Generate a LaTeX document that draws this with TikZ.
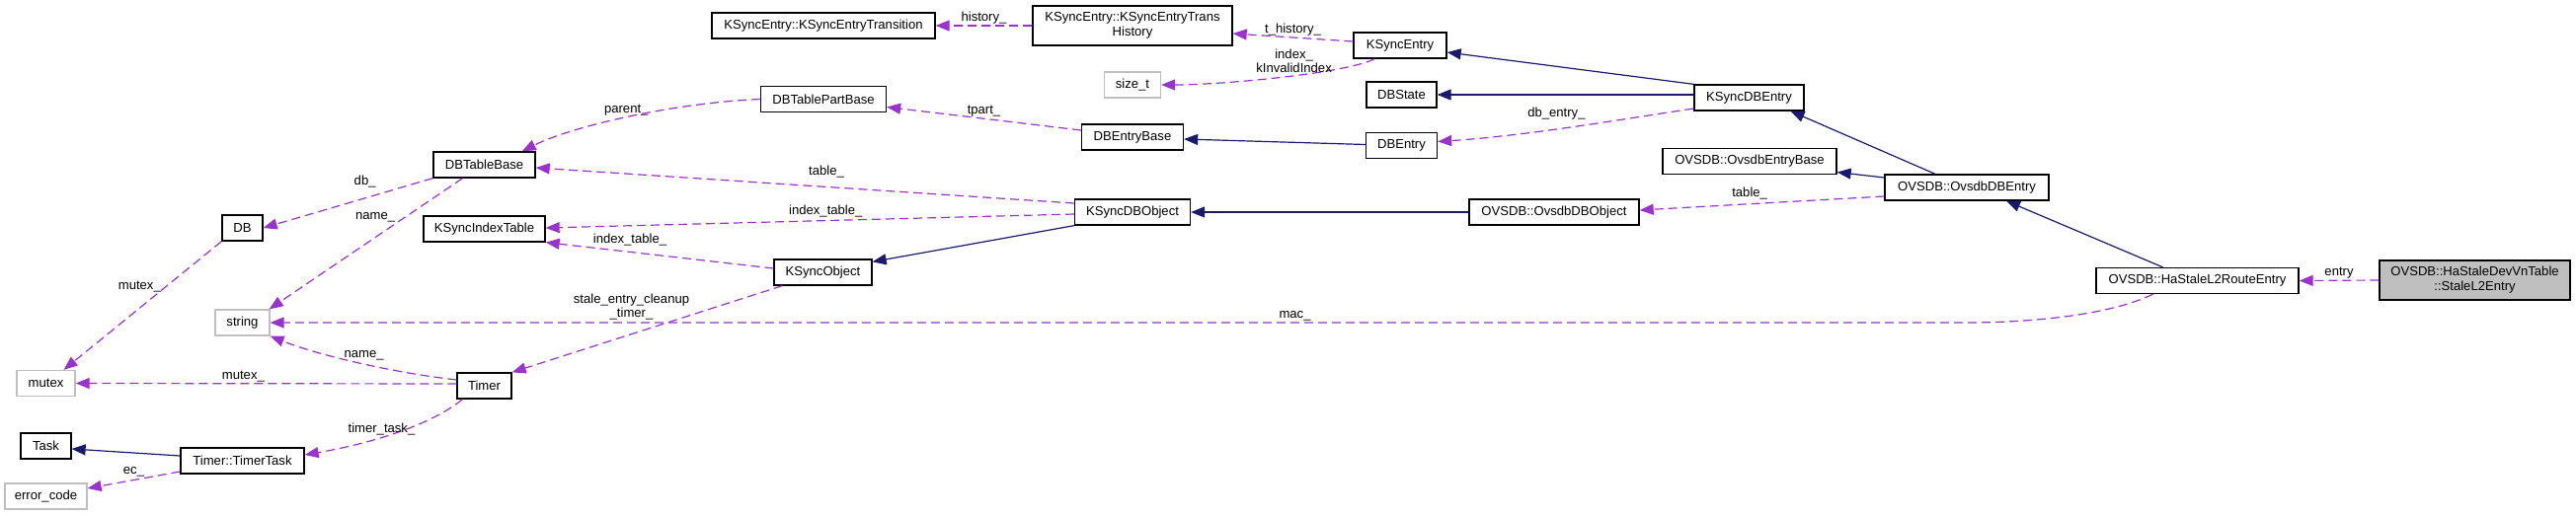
\documentclass[tikz,border=0pt]{standalone}
\usepackage{fontspec}
\setmainfont{Liberation Sans}
\usetikzlibrary{arrows.meta}
\definecolor{edgepurple}{HTML}{9A32CD}
\definecolor{edgeblue}{HTML}{191970}
\definecolor{undocgray}{HTML}{BFBFBF}
\tikzset{
  cls/.style={draw=black,line width=1.3pt,fill=white,minimum height=26pt,
    inner sep=0pt,align=center,font=\fontsize{13.1}{15}\selectfont},
  undoc/.style={cls,draw=undocgray},
  inherit/.style={-{Triangle[length=14pt,width=11pt]},line width=1.2pt,color=edgeblue},
  usage/.style={-{Triangle[length=14pt,width=11pt]},line width=1.2pt,color=edgepurple,
    dash pattern=on 9pt off 5pt},
  lbl/.style={text=black,inner sep=1pt,align=center,font=\fontsize{13.1}{14}\selectfont}
}

\begin{document}
\begin{tikzpicture}[x=1pt,y=-1pt,
  rootcls/.style={cls,fill=undocgray,minimum height=40pt}
]
  \useasboundingbox (0,0) rectangle (2609,522);
  \node[undoc,minimum width=59pt] (mutex) at (46.5,388.5) {mutex};
  \node[cls,minimum width=51pt] (task) at (46.5,452) {Task};
  \node[undoc,minimum width=83pt] (errcode) at (46.5,503) {error\_code};
  \node[cls,minimum width=41pt] (db) at (245.5,231) {DB};
  \node[undoc,minimum width=55pt] (string) at (245.5,327) {string};
  \node[cls,minimum width=125pt] (timertask) at (245.5,467) {Timer::TimerTask};
  \node[cls,minimum width=103pt] (dbtablebase) at (490.5,167) {DBTableBase};
  \node[cls,minimum width=123pt] (indextable) at (490.5,232) {KSyncIndexTable};
  \node[cls,minimum width=55pt] (timer) at (490.5,391) {Timer};
  \node[cls,minimum width=226pt] (transition) at (834,26) {KSyncEntry::KSyncEntryTransition};
  \node[cls,minimum width=127pt] (tablepartbase) at (834,100.5) {DBTablePartBase};
  \node[cls,minimum width=99pt] (ksyncobject) at (833.5,276) {KSyncObject};
  \node[cls,minimum width=202pt,minimum height=40pt] (transhistory) at (1147,26) {KSyncEntry::KSyncEntryTrans\\History};
  \node[undoc,minimum width=57pt] (sizet) at (1147,86) {size\_t};
  \node[cls,minimum width=103pt] (dbentrybase) at (1147,139) {DBEntryBase};
  \node[cls,minimum width=117pt] (ksyncdbobject) at (1147,215) {KSyncDBObject};
  \node[cls,minimum width=94pt] (ksyncentry) at (1418,46) {KSyncEntry};
  \node[cls,minimum width=71pt] (dbstate) at (1419.5,96) {DBState};
  \node[cls,minimum width=72pt] (dbentry) at (1419.5,147.5) {DBEntry};
  \node[cls,minimum width=172pt] (ovsdbobject) at (1574,215) {OVSDB::OvsdbDBObject};
  \node[cls,minimum width=111pt] (ksyncdbentry) at (1771.5,99) {KSyncDBEntry};
  \node[cls,minimum width=176pt] (ovsdbentrybase) at (1772,163.5) {OVSDB::OvsdbEntryBase};
  \node[cls,minimum width=166pt] (ovsdbdbentry) at (1992,190) {OVSDB::OvsdbDBEntry};
  \node[cls,minimum width=205pt] (hastale) at (2225.5,284.5) {OVSDB::HaStaleL2RouteEntry};
  \node[rootcls,minimum width=193pt] (staleentry) at (2506.5,284) {OVSDB::HaStaleDevVnTable\\::StaleL2Entry};
  \draw[usage] (transhistory.west) -- node[lbl,above] {history\_} (transition.east);
  \draw[usage] ([yshift=4pt]ksyncentry.west) -- node[lbl,above] {t\_history\_} ([yshift=-8pt]transhistory.east);
  \draw[usage] ([xshift=22pt]ksyncentry.south west) .. controls +(-30,15) and +(60,0) .. node[lbl,pos=0.4,above,xshift=-10pt] {index\_\\kInvalidIndex} (sizet.east);
  \draw[inherit] (ksyncdbentry.north west) -- ([yshift=-7pt]ksyncentry.east);
  \draw[inherit] (ksyncdbentry.west |- dbstate.east) -- (dbstate.east);
  \draw[usage] ([yshift=-11pt]ksyncdbentry.west) .. controls +(-80,12) and +(90,-6) .. node[lbl,pos=0.55,above=8pt] {db\_entry\_} ([yshift=4pt]dbentry.east);
  \draw[inherit] ([yshift=1pt]dbentry.west) -- ([yshift=-2pt]dbentrybase.east);
  \draw[usage] ([yshift=7pt]dbentrybase.west) -- node[lbl,above] {tpart\_} ([yshift=-8pt]tablepartbase.east);
  \draw[usage] (tablepartbase.west) .. controls +(-90,4) and +(50,-25) .. node[lbl,pos=0.5,above] {parent\_} ([xshift=-14pt]dbtablebase.north east);
  \draw[usage] (dbtablebase.south west) -- node[lbl,pos=0.4,above=9pt] {db\_} (db.east);
  \draw[usage] ([xshift=-22pt]dbtablebase.south) -- node[lbl,pos=0.3,left=8pt] {name\_} ([xshift=-1pt]string.north east);
  \draw[usage] (db.south west) -- node[lbl,pos=0.35,left=4pt] {mutex\_} ([xshift=18pt]mutex.north);
  \draw[usage] ([yshift=9pt]ksyncdbobject.west) -- node[lbl,pos=0.46,above=8pt] {table\_} ([yshift=-3pt]dbtablebase.east);
  \draw[usage] ([yshift=-2pt]ksyncdbobject.west) -- node[lbl,pos=0.47,above=2pt] {index\_table\_} ([yshift=1pt]indextable.east);
  \draw[usage] ([yshift=4pt]ksyncobject.west) -- node[lbl,pos=0.63,above=5pt] {index\_table\_} (indextable.south east);
  \draw[inherit] (ksyncdbobject.south west) -- ([yshift=-3pt]ksyncobject.north east);
  \draw[inherit] (ovsdbobject.west) -- (ksyncdbobject.east);
  \draw[usage] ([yshift=-9pt]ovsdbdbentry.west) -- node[lbl,pos=0.55,above=3pt] {table\_} ([yshift=2pt]ovsdbobject.east);
  \draw[inherit] ([xshift=-32pt]ovsdbdbentry.north) -- ([xshift=42pt]ksyncdbentry.south);
  \draw[inherit] ([yshift=10pt]ovsdbdbentry.west) -- ([yshift=-11pt]ovsdbentrybase.east);
  \draw[inherit] ([xshift=-35pt]hastale.north) -- ([xshift=40pt]ovsdbdbentry.south);
  \draw[usage] (staleentry.west) -- node[lbl,above] {entry} (hastale.east);
  \draw[usage] ([xshift=-45pt]hastale.south) .. controls +(-45,22) and +(60,0) .. (string.east -| ovsdbdbentry.south) -- node[lbl,pos=0.396,above] {mac\_} (string.east);
  \draw[usage] ([xshift=9pt]ksyncobject.south west) -- node[lbl,pos=0.5,above=8pt,xshift=-16pt] {stale\_entry\_cleanup\\\_timer\_} (timer.north east);
  \draw[usage] ([yshift=6pt]timer.west) .. controls +(-70,-8) and +(45,18) .. node[lbl,pos=0.45,above=2pt] {name\_} (string.south east);
  \draw[usage] ([yshift=2pt]timer.west) -- node[lbl,pos=0.56,above] {mutex\_} (mutex.east);
  \draw[usage] ([xshift=6pt]timer.south west) .. controls +(-30,25) and +(70,-12) .. node[lbl,pos=0.6,above] {timer\_task\_} ([yshift=6pt]timertask.east);
  \draw[inherit] ([yshift=5pt]timertask.west) -- ([yshift=-3pt]task.east);
  \draw[usage] ([yshift=-11pt]timertask.west) -- node[lbl,above=2pt] {ec\_} ([yshift=8pt]errcode.east);
\end{tikzpicture}
\end{document}
